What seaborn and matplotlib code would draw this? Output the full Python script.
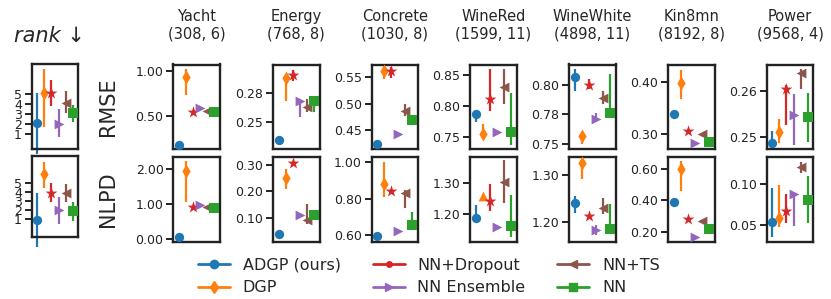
import numpy as np
import pandas as pd
import matplotlib
matplotlib.use("Agg")
import matplotlib.pyplot as plt
from matplotlib.lines import Line2D
import seaborn as sns

# ---------------- data ----------------
methods = ["ADGP (ours)", "DGP", "NN+Dropout", "NN Ensemble", "NN+TS", "NN"]
colors = ["#1f77b4", "#ff7f0e", "#d62728", "#9467bd", "#8c564b", "#2ca02c"]
markers = ["o", "d", "*", ">", "<", "s"]
legend_markers = ["o", "d", ".", ">", "<", "s"]

datasets = ["Yacht", "Energy", "Concrete", "WineRed", "WineWhite", "Kin8mn", "Power"]
shapes = ["(308, 6)", "(768, 8)", "(1030, 8)", "(1599, 11)", "(4898, 11)", "(8192, 8)", "(9568, 4)"]
metrics = ["RMSE", "NLPD"]

# rank panel
rank_rmse_mid = [2.1, 5.1, 5.1, 2.03, 4.16, 3.1]
rank_rmse_lo = [-0.97, 1.76, 3.83, 0.76, 3.1, 2.26]
rank_rmse_hi = [5.1, 7.53, 6.43, 3.5, 5.36, 3.93]
rank_nlpd_mid = [0.92, 6.01, 3.94, 2.02, 3.94, 1.95]
rank_nlpd_lo = [-2.04, 4.49, 2.88, 0.47, 2.94, 0.84]
rank_nlpd_hi = [3.87, 7.37, 5.05, 3.43, 4.9, 2.94]
rank_ticks = [1, 2, 3, 4, 5]

# Yacht
yacht_rmse_mid = [0.19, 0.93, 0.547, 0.588, 0.558, 0.547]
yacht_rmse_lo = [0.19, 0.74, 0.547, 0.588, 0.558, 0.547]
yacht_rmse_hi = [0.19, 1.02, 0.547, 0.588, 0.558, 0.547]
yacht_nlpd_mid = [0.07, 1.95, 0.906, 0.97, 0.92, 0.89]
yacht_nlpd_lo = [0.07, 1.05, 0.906, 0.97, 0.92, 0.89]
yacht_nlpd_hi = [0.07, 2.23, 0.906, 0.97, 0.92, 0.89]
# Energy
energy_rmse_mid = [0.2344, 0.2878, 0.2897, 0.2676, 0.2628, 0.2676]
energy_rmse_lo = [0.2344, 0.2679, 0.2849, 0.2543, 0.2585, 0.2585]
energy_rmse_hi = [0.2344, 0.2905, 0.2948, 0.2700, 0.2700, 0.2676]
energy_nlpd_mid = [0.038, 0.252, 0.306, 0.110, 0.091, 0.110]
energy_nlpd_lo = [0.038, 0.208, 0.306, 0.110, 0.075, 0.105]
energy_nlpd_hi = [0.038, 0.285, 0.306, 0.110, 0.152, 0.115]
# Concrete
concrete_rmse_mid = [0.423, 0.5626, 0.561, 0.442, 0.4856, 0.469]
concrete_rmse_lo = [0.423, 0.547, 0.549, 0.442, 0.4767, 0.469]
concrete_rmse_hi = [0.423, 0.571, 0.569, 0.442, 0.500, 0.469]
concrete_nlpd_mid = [0.595, 0.880, 0.844, 0.623, 0.833, 0.656]
concrete_nlpd_lo = [0.595, 0.811, 0.844, 0.623, 0.747, 0.656]
concrete_nlpd_hi = [0.595, 1.002, 0.844, 0.623, 0.848, 0.729]
# WineRed
winered_rmse_mid = [0.788, 0.755, 0.8117, 0.758, 0.831, 0.758]
winered_rmse_lo = [0.775, 0.748, 0.792, 0.758, 0.803, 0.738]
winered_rmse_hi = [0.792, 0.771, 0.859, 0.758, 0.859, 0.821]
winered_nlpd_mid = [1.189, 1.26, 1.244, 1.16, 1.305, 1.163]
winered_nlpd_lo = [1.189, 1.26, 1.212, 1.16, 1.235, 1.128]
winered_nlpd_hi = [1.230, 1.26, 1.297, 1.16, 1.376, 1.262]
# WineWhite
winewhite_rmse_mid = [0.8063, 0.757, 0.800, 0.771, 0.789, 0.7764]
winewhite_rmse_lo = [0.795, 0.7503, 0.7967, 0.771, 0.784, 0.7764]
winewhite_rmse_hi = [0.8133, 0.7606, 0.805, 0.776, 0.795, 0.809]
winewhite_nlpd_mid = [1.241, 1.326, 1.212, 1.182, 1.229, 1.184]
winewhite_nlpd_lo = [1.219, 1.293, 1.212, 1.170, 1.217, 1.184]
winewhite_nlpd_hi = [1.256, 1.333, 1.212, 1.193, 1.250, 1.238]
# Kin8mn
kin8mn_rmse_mid = [0.338, 0.399, 0.3064, 0.284, 0.300, 0.285]
kin8mn_rmse_lo = [0.338, 0.368, 0.3064, 0.284, 0.300, 0.285]
kin8mn_rmse_hi = [0.338, 0.424, 0.3064, 0.284, 0.300, 0.285]
kin8mn_nlpd_mid = [0.39, 0.60, 0.281, 0.169, 0.27, 0.217]
kin8mn_nlpd_lo = [0.39, 0.462, 0.281, 0.169, 0.27, 0.217]
kin8mn_nlpd_hi = [0.39, 0.653, 0.281, 0.169, 0.27, 0.217]
# Power
power_rmse_mid = [0.2487, 0.2511, 0.2604, 0.2547, 0.2640, 0.2544]
power_rmse_lo = [0.2470, 0.2487, 0.2526, 0.2482, 0.2606, 0.2489]
power_rmse_hi = [0.2513, 0.2540, 0.2614, 0.2595, 0.2648, 0.2597]
power_nlpd_mid = [0.054, 0.0589, 0.0674, 0.0878, 0.1204, 0.0805]
power_nlpd_lo = [0.0357, 0.048, 0.0528, 0.0491, 0.1138, 0.0521]
power_nlpd_hi = [0.0948, 0.0988, 0.0878, 0.089, 0.127, 0.1098]

# y ticks and limits per panel
rmse_ticks = [[0.50, 1.00], [0.25, 0.275], [0.45, 0.50, 0.55], [0.75, 0.80, 0.85],
              [0.75, 0.775, 0.80], [0.30, 0.40], [0.25, 0.26]]
nlpd_ticks = [[0.0, 1.0, 2.0], [0.10, 0.20, 0.30], [0.60, 0.80, 1.00], [1.20, 1.30],
              [1.20, 1.30], [0.20, 0.40, 0.60], [0.05, 0.10]]
rmse_ylim = [(0.141, 1.073), (0.2268, 0.2991), (0.4144, 0.574), (0.7316, 0.866),
             (0.746, 0.817), (0.272, 0.4336), (0.2473, 0.2659)]
nlpd_ylim = [(-0.07, 2.34), (0.0095, 0.330), (0.566, 1.027), (1.112, 1.385),
             (1.157, 1.3395), (0.137, 0.679), (0.0299, 0.133)]
rank_rmse_ylim = (-0.5, 8.0)
rank_nlpd_ylim = (-1.0, 8.0)

# marker exceptions (dataset, metric, method index) -> marker
marker_override = {("WineRed", "NLPD", 1): "^"}

rmse_mid = [yacht_rmse_mid, energy_rmse_mid, concrete_rmse_mid, winered_rmse_mid,
            winewhite_rmse_mid, kin8mn_rmse_mid, power_rmse_mid]
rmse_lo = [yacht_rmse_lo, energy_rmse_lo, concrete_rmse_lo, winered_rmse_lo,
           winewhite_rmse_lo, kin8mn_rmse_lo, power_rmse_lo]
rmse_hi = [yacht_rmse_hi, energy_rmse_hi, concrete_rmse_hi, winered_rmse_hi,
           winewhite_rmse_hi, kin8mn_rmse_hi, power_rmse_hi]
nlpd_mid = [yacht_nlpd_mid, energy_nlpd_mid, concrete_nlpd_mid, winered_nlpd_mid,
            winewhite_nlpd_mid, kin8mn_nlpd_mid, power_nlpd_mid]
nlpd_lo = [yacht_nlpd_lo, energy_nlpd_lo, concrete_nlpd_lo, winered_nlpd_lo,
           winewhite_nlpd_lo, kin8mn_nlpd_lo, power_nlpd_lo]
nlpd_hi = [yacht_nlpd_hi, energy_nlpd_hi, concrete_nlpd_hi, winered_nlpd_hi,
           winewhite_nlpd_hi, kin8mn_nlpd_hi, power_nlpd_hi]

# ---------------- style ----------------
sns.set_theme(style="ticks")
plt.rcParams["font.family"] = ["DejaVu Sans"]
plt.rcParams.update({
    "axes.linewidth": 1.7,
    "axes.edgecolor": "#222222",
    "ytick.major.width": 1.4,
    "ytick.major.size": 5,
    "ytick.labelsize": 9,
    "ytick.color": "#222222",
})

W, H = 831, 299
fig = plt.figure(figsize=(W / 100, H / 100), dpi=100)

def px_axes(x0, y0, x1, y1):
    return fig.add_axes([x0 / W, 1 - y1 / H, (x1 - x0) / W, (y1 - y0) / H])

marker_sizes = {"o": 45, "d": 50, "*": 80, ">": 50, "<": 50, "s": 42, "^": 50}

def draw_panel(ax, mid, lo, hi, ylim, ticks, fmt, key=None):
    df = pd.DataFrame({"method": methods, "pos": np.arange(len(methods)),
                       "mid": mid, "lo": lo, "hi": hi})
    ax.vlines(df["pos"], df["lo"], df["hi"], colors=colors, linewidth=1.6, zorder=2,
              clip_on=False)
    for j, m in enumerate(methods):
        mk = marker_override.get((key[0], key[1], j), markers[j]) if key else markers[j]
        sub = df[df["method"] == m]
        sns.scatterplot(data=sub, x="pos", y="mid", color=colors[j],
                        marker=mk, s=marker_sizes[mk], linewidth=0, ax=ax,
                        legend=False, zorder=3, clip_on=False)
    ax.set_xlim(-0.8, 5.8)
    ax.set_ylim(*ylim)
    ax.set_xticks([])
    ax.set_yticks(ticks)
    ax.set_yticklabels([fmt % t for t in ticks])
    ax.set_xlabel("")
    ax.set_ylabel("")
    ax.tick_params(axis="y", pad=2)
    for s in ax.spines.values():
        s.set_visible(True)

col_x = [173.3, 273, 371.5, 470, 569, 668, 766.7]
col_w = 46.6
top_y = (64.5, 149)
bot_y = (157, 241.5)

# rank panels
axr1 = px_axes(31.7, 64.3, 31.7 + col_w, 149.3)
draw_panel(axr1, rank_rmse_mid, rank_rmse_lo, rank_rmse_hi, rank_rmse_ylim, rank_ticks, "%d")
axr2 = px_axes(31.7, 156, 31.7 + col_w, 237.3)
draw_panel(axr2, rank_nlpd_mid, rank_nlpd_lo, rank_nlpd_hi, rank_nlpd_ylim, rank_ticks, "%d")
fig.text(49 / W, 1 - 36 / H, "rank \u2193", ha="center", va="center", fontsize=15,
         style="italic")

for i, name in enumerate(datasets):
    ax1 = px_axes(col_x[i], top_y[0], col_x[i] + col_w, top_y[1])
    draw_panel(ax1, rmse_mid[i], rmse_lo[i], rmse_hi[i], rmse_ylim[i], rmse_ticks[i], "%.2f",
               key=(name, "RMSE"))
    ax2 = px_axes(col_x[i], bot_y[0], col_x[i] + col_w, bot_y[1])
    draw_panel(ax2, nlpd_mid[i], nlpd_lo[i], nlpd_hi[i], nlpd_ylim[i], nlpd_ticks[i], "%.2f",
               key=(name, "NLPD"))
    fig.text((col_x[i] + col_w / 2) / W, 1 - 25 / H, f"{name}\n{shapes[i]}",
             ha="center", va="center", fontsize=10.5, linespacing=1.2)

fig.text(108 / W, 1 - 107 / H, "RMSE", rotation=90, ha="center", va="center", fontsize=15)
fig.text(108 / W, 1 - 199 / H, "NLPD", rotation=90, ha="center", va="center", fontsize=15)

handles = [Line2D([0], [0], color=c, marker=m, linewidth=2, markersize=6 if m != "." else 8)
           for c, m in zip(colors, legend_markers)]
fig.legend(handles, methods, loc="center", bbox_to_anchor=(429 / W, 1 - 276.5 / H),
           ncol=3, frameon=False, fontsize=11.5, handlelength=2.0, handletextpad=0.8,
           columnspacing=2.0, labelspacing=0.45)

fig.savefig("out.png", dpi=100)
